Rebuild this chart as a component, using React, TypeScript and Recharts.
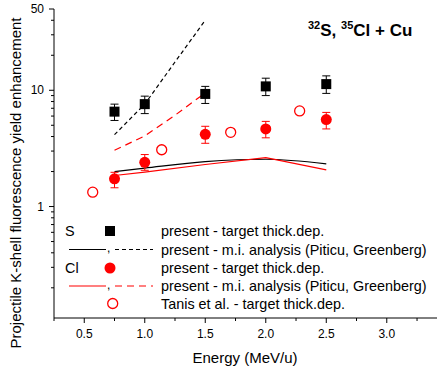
import { ComposedChart, XAxis, YAxis, Scatter, Line, ErrorBar, Label } from "recharts";

const FONT = "'Liberation Sans', Arial, sans-serif";

// measured points (MeV/u)
const energies = [0.75, 1.0, 1.5, 2.0, 2.5];
const sYield = [6.55, 7.6, 9.3, 10.8, 11.3];
const sLow = [5.5, 6.3, 7.7, 9.0, 9.4];
const sHigh = [7.6, 8.9, 10.8, 12.7, 13.3];
const clYield = [1.73, 2.4, 4.18, 4.65, 5.6];
const clLow = [1.45, 2.05, 3.5, 3.9, 4.65];
const clHigh = [1.97, 2.8, 4.9, 5.4, 6.45];

// Tanis et al.
const tanisEnergy = [0.57, 1.14, 1.71, 2.28];
const tanisYield = [1.33, 3.08, 4.35, 6.64];

// m.i. analysis curves
const miEnergy = [0.75, 1.0, 1.5, 2.0, 2.5];
const sMiSolid = [2.0, 2.14, 2.43, 2.55, 2.33];
const clMiSolid = [1.85, 1.98, 2.3, 2.63, 2.07];
const miDashEnergy = [0.75, 1.0, 1.25, 1.5];
const sMiDash = [4.15, 7.6, 17.5, 40];
const clMiDash = [3.05, 4.05, 6.1, 9.5];

const xTicks = [0.25, 0.5, 0.75, 1.0, 1.25, 1.5, 1.75, 2.0, 2.25, 2.5, 2.75, 3.0, 3.25];
const yTicks = [0.2, 0.3, 0.4, 0.5, 0.6, 0.7, 0.8, 0.9, 1, 2, 3, 4, 5, 6, 7, 8, 9, 10, 20, 30, 40, 50];
const yLabeled = [1, 10, 50];

const withErr = (ys: number[], lo: number[], hi: number[]) =>
  energies.map((x, i) => ({ x, y: ys[i], err: [ys[i] - lo[i], hi[i] - ys[i]] }));
const sData = withErr(sYield, sLow, sHigh);
const clData = withErr(clYield, clLow, clHigh);
const tanisData = tanisEnergy.map((x, i) => ({ x, y: tanisYield[i] }));
const sSolidData = miEnergy.map((x, i) => ({ x, y: sMiSolid[i] }));
const clSolidData = miEnergy.map((x, i) => ({ x, y: clMiSolid[i] }));
const sDashData = miDashEnergy.map((x, i) => ({ x, y: sMiDash[i] }));
const clDashData = miDashEnergy.map((x, i) => ({ x, y: clMiDash[i] }));

const Square = (p: any) => <rect x={p.cx - 5} y={p.cy - 5} width={10} height={10} fill="#000" />;
const Dot = (p: any) => <circle cx={p.cx} cy={p.cy} r={5.5} fill="#ff0000" />;
const OpenDot = (p: any) => <circle cx={p.cx} cy={p.cy} r={5} fill="none" stroke="#ff0000" strokeWidth={1.3} />;

function YTick(props: any) {
  const { x, y, payload } = props;
  const major = yLabeled.includes(payload.value);
  return (
    <g>
      <line x1={x} x2={x - (major ? 5 : 3)} y1={y} y2={y} stroke="#000" />
      {major && (
        <text x={x - 10} y={y} textAnchor="end" dominantBaseline="central" fontSize={12} fontFamily={FONT} fill="#000">
          {payload.value}
        </text>
      )}
    </g>
  );
}

function XTick(props: any) {
  const { x, y, payload } = props;
  const major = Math.abs(payload.value * 2 - Math.round(payload.value * 2)) < 1e-6;
  return (
    <g>
      <line x1={x} x2={x} y1={y} y2={y + (major ? 5 : 3)} stroke="#000" />
      {major && (
        <text x={x} y={y + 16} textAnchor="middle" dominantBaseline="central" fontSize={12} fontFamily={FONT} fill="#000">
          {payload.value.toFixed(1)}
        </text>
      )}
    </g>
  );
}

const legendText = { fontSize: 14.4, fontFamily: FONT, fill: "#000" };

export default function App() {
  return (
    <div style={{ position: "absolute", left: 0, top: 0, width: 437, height: 368, background: "#fff" }}>
      <ComposedChart width={437} height={368} margin={{ top: 9, right: 0, bottom: 0, left: 0 }}>
        <XAxis
          type="number"
          dataKey="x"
          domain={[0.25, 3.415]}
          ticks={xTicks}
          interval={0}
          allowDataOverflow
          height={50}
          tickSize={0}
          tickMargin={0}
          tickLine={false}
          tick={<XTick />}
          axisLine={{ stroke: "#000" }}
        >
          <Label
            content={() => (
              <text x={245} y={357} textAnchor="middle" dominantBaseline="central" fontSize={15} fontFamily={FONT} fill="#000">
                Energy (MeV/u)
              </text>
            )}
          />
        </XAxis>
        <YAxis
          type="number"
          dataKey="y"
          scale="log"
          domain={[0.11, 50]}
          ticks={yTicks}
          interval={0}
          allowDataOverflow
          width={54}
          tickSize={0}
          tickMargin={0}
          tickLine={false}
          tick={<YTick />}
          axisLine={{ stroke: "#000" }}
        >
          <Label
            content={() => (
              <text
                x={15}
                y={183}
                transform="rotate(-90 15 183)"
                textAnchor="middle"
                dominantBaseline="central"
                fontSize={15}
                fontFamily={FONT}
                fill="#000"
              >
                Projectile K-shell fluorescence yield enhancement
              </text>
            )}
          />
        </YAxis>

        <Line data={sDashData} dataKey="y" stroke="#000" strokeWidth={1.2} strokeDasharray="4 3" dot={false} activeDot={false} isAnimationActive={false} />
        <Line data={clDashData} dataKey="y" stroke="#ff0000" strokeWidth={1.2} strokeDasharray="7 5" dot={false} activeDot={false} isAnimationActive={false} />
        <Line data={sSolidData} type="monotone" dataKey="y" stroke="#000" strokeWidth={1.2} dot={false} activeDot={false} isAnimationActive={false} />
        <Line data={clSolidData} dataKey="y" stroke="#ff0000" strokeWidth={1.2} dot={false} activeDot={false} isAnimationActive={false} />

        <Scatter data={tanisData} dataKey="y" shape={OpenDot} isAnimationActive={false} />
        <Scatter data={sData} dataKey="y" shape={Square} isAnimationActive={false}>
          <ErrorBar dataKey="err" direction="y" width={4} stroke="#000" strokeWidth={1} />
        </Scatter>
        <Scatter data={clData} dataKey="y" shape={Dot} isAnimationActive={false}>
          <ErrorBar dataKey="err" direction="y" width={4} stroke="#ff0000" strokeWidth={1} />
        </Scatter>
      </ComposedChart>

      <svg width={437} height={368} style={{ position: "absolute", left: 0, top: 0, pointerEvents: "none" }}>
        <text x={308} y={36} fontWeight="bold" fontSize={17} fontFamily={FONT} fill="#000">
          <tspan fontSize={11} dy={-7}>32</tspan>
          <tspan dy={7}>{"S, "}</tspan>
          <tspan fontSize={11} dy={-7}>35</tspan>
          <tspan dy={7}>{"Cl + Cu"}</tspan>
        </text>

        <text x={65} y={231} dominantBaseline="central" {...legendText}>S</text>
        <rect x={105} y={226} width={10} height={10} fill="#000" />
        <text x={161} y={231} dominantBaseline="central" {...legendText}>present - target thick.dep.</text>

        <line x1={69} x2={106} y1={249.5} y2={249.5} stroke="#000" strokeWidth={1.2} />
        <text x={107} y={252} {...legendText} fontSize={12}>,</text>
        <line x1={115} x2={153} y1={249.5} y2={249.5} stroke="#000" strokeWidth={1.2} strokeDasharray="4 3" />
        <text x={161} y={249.5} dominantBaseline="central" {...legendText}>present - m.i. analysis (Piticu, Greenberg)</text>

        <text x={65} y={268} dominantBaseline="central" {...legendText}>Cl</text>
        <circle cx={110} cy={268} r={5.5} fill="#ff0000" />
        <text x={161} y={268} dominantBaseline="central" {...legendText}>present - target thick.dep.</text>

        <line x1={69} x2={106} y1={286} y2={286} stroke="#ff0000" strokeWidth={1.2} />
        <text x={107} y={288.5} {...legendText} fontSize={12}>,</text>
        <line x1={115} x2={153} y1={286} y2={286} stroke="#ff0000" strokeWidth={1.2} strokeDasharray="7 5" />
        <text x={161} y={286} dominantBaseline="central" {...legendText}>present - m.i. analysis (Piticu, Greenberg)</text>

        <circle cx={112.7} cy={303.5} r={5} fill="none" stroke="#ff0000" strokeWidth={1.3} />
        <text x={161} y={303.5} dominantBaseline="central" {...legendText}>Tanis et al. - target thick.dep.</text>
      </svg>
    </div>
  );
}
